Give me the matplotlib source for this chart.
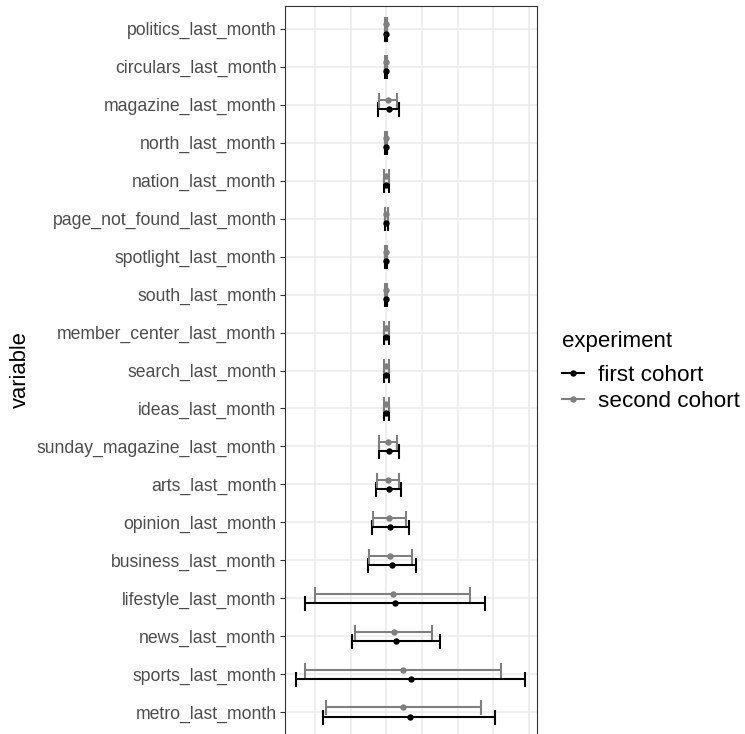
import matplotlib
matplotlib.use("Agg")
import matplotlib.pyplot as plt
from matplotlib.lines import Line2D
import numpy as np

plt.rcParams['font.family'] = ['Liberation Sans', 'DejaVu Sans']

# categories listed top -> bottom as they appear in the chart
categories = ["politics_last_month", "circulars_last_month", "magazine_last_month",
              "north_last_month", "nation_last_month", "page_not_found_last_month",
              "spotlight_last_month", "south_last_month", "member_center_last_month",
              "search_last_month", "ideas_last_month", "sunday_magazine_last_month",
              "arts_last_month", "opinion_last_month", "business_last_month",
              "lifestyle_last_month", "news_last_month", "sports_last_month",
              "metro_last_month"]

# first cohort: estimate, lower, upper
first_est = [0.00, 0.00, 0.06, 0.00, 0.00, 0.00, 0.00, 0.00, 0.00, 0.00, 0.00,
             0.06, 0.06, 0.11, 0.17, 0.25, 0.27, 0.68, 0.65]
first_lo = [-0.03, -0.03, -0.24, -0.03, -0.06, -0.05, -0.03, -0.03, -0.06, -0.06, -0.06,
            -0.22, -0.29, -0.41, -0.52, -2.28, -0.98, -2.54, -1.77]
first_hi = [0.03, 0.03, 0.35, 0.03, 0.06, 0.05, 0.03, 0.03, 0.06, 0.06, 0.06,
            0.35, 0.42, 0.63, 0.84, 2.76, 1.50, 3.90, 3.06]

# second cohort: estimate, lower, upper
second_est = [0.00, 0.00, 0.04, 0.00, 0.00, 0.00, 0.00, 0.00, 0.00, 0.00, 0.00,
              0.04, 0.04, 0.07, 0.11, 0.18, 0.20, 0.48, 0.48]
second_lo = [-0.03, -0.03, -0.22, -0.03, -0.06, -0.05, -0.03, -0.03, -0.06, -0.06, -0.06,
             -0.22, -0.26, -0.38, -0.49, -2.01, -0.89, -2.28, -1.71]
second_hi = [0.03, 0.03, 0.30, 0.03, 0.06, 0.05, 0.03, 0.03, 0.06, 0.06, 0.06,
             0.30, 0.35, 0.54, 0.73, 2.36, 1.28, 3.23, 2.65]

series_names = ["first cohort", "second cohort"]
series_colors = ["#000000", "#7F7F7F"]

W, H = 745, 734
fig = plt.figure(figsize=(W / 100, H / 100), dpi=100)
left, right, top, bottom = 284.5, 536.7, 6.0, 735.0
ax = fig.add_axes([left / W, 1 - bottom / H, (right - left) / W, (bottom - top) / H])

n = len(categories)
ypos = np.arange(n, 0, -1).astype(float)  # politics at top
dodge = 0.125

series = [(first_est, first_lo, first_hi, -dodge), (second_est, second_lo, second_hi, dodge)]

# error bars (first cohort drawn first, then second)
for (est, lo, hi, off), col in zip(series, series_colors):
    est = np.array(est); lo = np.array(lo); hi = np.array(hi)
    ax.errorbar(est, ypos + off, xerr=[est - lo, hi - est], fmt='none',
                ecolor=col, elinewidth=1.5, capsize=5.4, capthick=1.5, zorder=3)
# points
for (est, lo, hi, off), col in zip(series, series_colors):
    ax.plot(est, ypos + off, 'o', color=col, markersize=4.6, markeredgewidth=0, zorder=4)

allv = first_lo + first_hi + second_lo + second_hi
xmin, xmax = min(allv), max(allv)
pad = 0.05 * (xmax - xmin)
ax.set_xlim(xmin - pad, xmax + pad)
ax.set_ylim(0.4, n + 0.6)

ax.set_yticks(ypos)
ax.set_yticklabels(categories)
ax.set_xticks([-2, 0, 2, 4])
ax.set_xticks([-1, 1, 3], minor=True)
ax.tick_params(axis='y', length=3.8, width=0.8, color='#333333', labelcolor='#4D4D4D',
               labelsize=12.7, pad=2.0)
# the x axis lies below the visible area of the reference image
ax.tick_params(axis='x', which='both', length=0, labelbottom=False)

ax.grid(True, which='major', color='#EBEBEB', linewidth=1.1, zorder=0)
ax.grid(True, which='minor', axis='x', color='#EBEBEB', linewidth=1.1, zorder=0)
ax.set_axisbelow(True)
for s in ax.spines.values():
    s.set_color('#333333')
    s.set_linewidth(0.8)

fig.text(20 / W, 1 - 370 / H, "variable", rotation=90, ha='center', va='center',
         fontsize=15.8, color='black')

# legend
fig.text(562 / W, 1 - 346.7 / H, "experiment", ha='left', va='baseline',
         fontsize=16.0, color='black')
handles = [Line2D([0], [0], color=c, marker='o', markersize=4.6, markeredgewidth=0,
                  linewidth=1.5) for c in series_colors]
leg = fig.legend(handles, series_names, loc='center left',
                 bbox_to_anchor=(562 / W, 1 - 388.3 / H), frameon=False,
                 fontsize=16.2, handlelength=0.98,
                 handletextpad=0.6, labelspacing=0.2,
                 borderaxespad=0, borderpad=0)

fig.savefig("out.png", dpi=100)
